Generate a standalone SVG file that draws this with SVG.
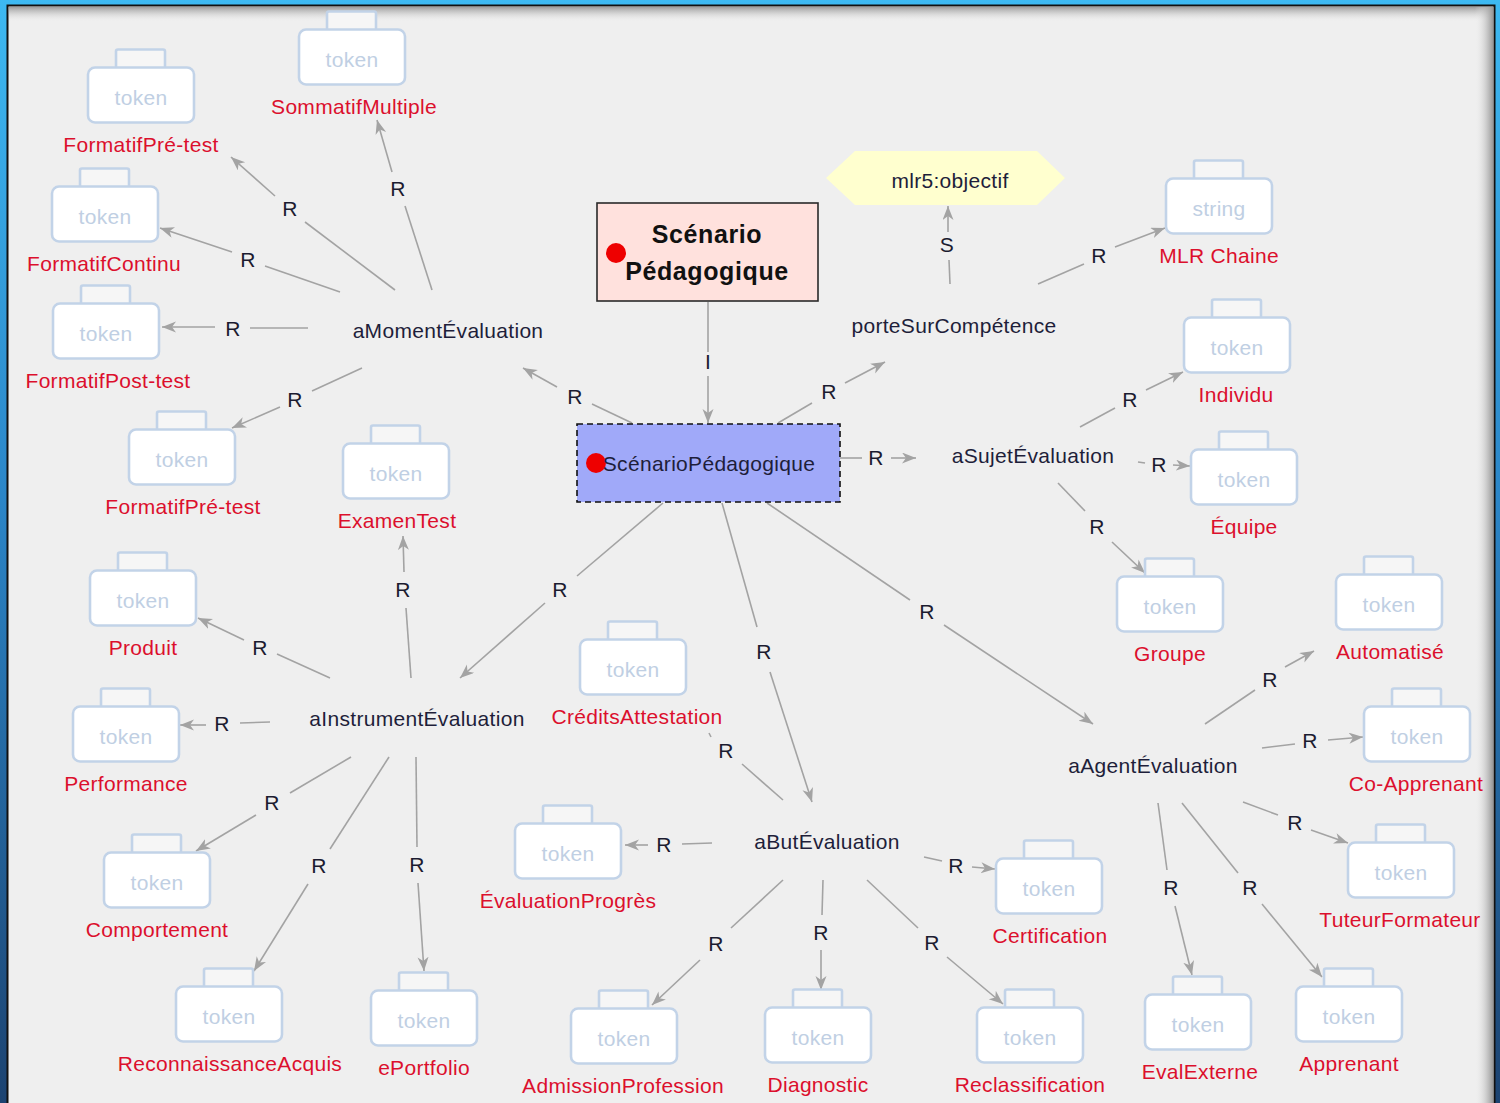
<svg xmlns="http://www.w3.org/2000/svg" xmlns:xlink="http://www.w3.org/1999/xlink" width="1500" height="1103" viewBox="0 0 1500 1103">
  <defs>
    <linearGradient id="frameGrad" x1="0" y1="0" x2="0" y2="1">
      <stop offset="0" stop-color="#3db9f2"/>
      <stop offset="0.45" stop-color="#2b86c8"/>
      <stop offset="1" stop-color="#1c4371"/>
    </linearGradient>
    <linearGradient id="shadowTop" x1="0" y1="0" x2="0" y2="1">
      <stop offset="0" stop-color="#9c9c9c"/>
      <stop offset="1" stop-color="#efefef" stop-opacity="0"/>
    </linearGradient>
    <linearGradient id="shadowRight" x1="0" y1="0" x2="1" y2="0">
      <stop offset="0" stop-color="#efefef" stop-opacity="0"/>
      <stop offset="1" stop-color="#979797"/>
    </linearGradient>
    <marker id="ah" markerUnits="userSpaceOnUse" markerWidth="16" markerHeight="13" refX="14" refY="5.5" orient="auto">
      <path d="M0,0 L14,5.5 L0,11 L4,5.5 z" fill="#a3a3a3"/>
    </marker>
    <g id="tokbox">
      <rect x="-25" y="-46.5" width="49" height="20" rx="2" fill="#f6f6f6" stroke="#c2d3e8" stroke-width="2.6"/>
      <rect x="-53" y="-28.5" width="106" height="55" rx="7" fill="#ffffff" stroke="#c2d3e8" stroke-width="2.6"/>
    </g>
  </defs>
  <style>
    text { font-family: "Liberation Sans", Arial, sans-serif; font-size: 21px; letter-spacing: 0.3px; text-anchor: middle; }
    .edge { stroke: #a3a3a3; stroke-width: 1.6; fill: none; }
    .arr { marker-end: url(#ah); }
    .rl { fill: #1b1b30; }
    .nt { fill: #1e1e3a; }
    .tt { fill: #c0cfe3; }
    .lbl { fill: #dc0f2d; }
    .title { font-weight: bold; font-size: 25px; letter-spacing: 0.6px; fill: #111111; }
  </style>

  <!-- window frame -->
  <rect x="0" y="0" width="1500" height="1103" fill="url(#frameGrad)"/>
  <rect x="7.5" y="5.5" width="1487" height="1110" fill="#efefef" stroke="#111111" stroke-width="2"/>
  <rect x="9" y="7" width="1484" height="15" fill="url(#shadowTop)"/>
  <rect x="1475" y="7" width="18" height="1096" fill="url(#shadowRight)"/>

  <!-- connectors -->
  <g id="connectors">
    <!-- class to instance -->
    <line class="edge" x1="708" y1="302" x2="708" y2="352"/>
    <line class="edge arr" x1="708" y1="376" x2="708" y2="423"/>
    <!-- from ScénarioPédagogique -->
    <line class="edge" x1="632" y1="423" x2="592" y2="404"/>
    <line class="edge arr" x1="557" y1="387" x2="523" y2="368"/>
    <line class="edge" x1="778" y1="423" x2="812" y2="403"/>
    <line class="edge arr" x1="845" y1="383" x2="885" y2="362"/>
    <line class="edge" x1="840" y1="458" x2="862" y2="458"/>
    <line class="edge arr" x1="891" y1="458" x2="916" y2="458"/>
    <line class="edge" x1="663" y1="503" x2="577" y2="576"/>
    <line class="edge arr" x1="545" y1="603" x2="460" y2="678"/>
    <line class="edge" x1="722" y1="503" x2="757" y2="627"/>
    <line class="edge arr" x1="770" y1="672" x2="812" y2="802"/>
    <line class="edge" x1="767" y1="503" x2="910" y2="600"/>
    <line class="edge arr" x1="944" y1="625" x2="1093" y2="724"/>
    <!-- porteSurCompétence -->
    <line class="edge" x1="950" y1="284" x2="949" y2="260"/>
    <line class="edge arr" x1="948" y1="232" x2="948" y2="206"/>
    <line class="edge" x1="1038" y1="284" x2="1084" y2="264"/>
    <line class="edge arr" x1="1115" y1="247" x2="1165" y2="228"/>
    <!-- aMomentÉvaluation -->
    <line class="edge" x1="432" y1="290" x2="405" y2="206"/>
    <line class="edge arr" x1="392" y1="172" x2="377" y2="120"/>
    <line class="edge" x1="395" y1="290" x2="305" y2="222"/>
    <line class="edge arr" x1="275" y1="196" x2="231" y2="157"/>
    <line class="edge" x1="340" y1="292" x2="265" y2="266"/>
    <line class="edge arr" x1="232" y1="252" x2="160" y2="228"/>
    <line class="edge" x1="308" y1="328" x2="250" y2="328"/>
    <line class="edge arr" x1="215" y1="327" x2="162" y2="327"/>
    <line class="edge" x1="362" y1="368" x2="312" y2="391"/>
    <line class="edge arr" x1="280" y1="407" x2="232" y2="428"/>
    <!-- aSujetÉvaluation -->
    <line class="edge" x1="1080" y1="427" x2="1115" y2="408"/>
    <line class="edge arr" x1="1146" y1="390" x2="1183" y2="372"/>
    <line class="edge" x1="1138" y1="462" x2="1145" y2="463"/>
    <line class="edge arr" x1="1173" y1="465" x2="1190" y2="466"/>
    <line class="edge" x1="1058" y1="483" x2="1085" y2="511"/>
    <line class="edge arr" x1="1112" y1="542" x2="1145" y2="573"/>
    <!-- aInstrumentÉvaluation -->
    <line class="edge" x1="411" y1="678" x2="406" y2="608"/>
    <line class="edge arr" x1="404" y1="572" x2="403" y2="536"/>
    <line class="edge" x1="330" y1="678" x2="277" y2="654"/>
    <line class="edge arr" x1="244" y1="640" x2="198" y2="618"/>
    <line class="edge" x1="270" y1="722" x2="240" y2="723"/>
    <line class="edge arr" x1="206" y1="725" x2="180" y2="725"/>
    <line class="edge" x1="351" y1="757" x2="290" y2="793"/>
    <line class="edge arr" x1="256" y1="815" x2="196" y2="851"/>
    <line class="edge" x1="389" y1="757" x2="330" y2="849"/>
    <line class="edge arr" x1="308" y1="884" x2="254" y2="971"/>
    <line class="edge" x1="416" y1="757" x2="417" y2="847"/>
    <line class="edge arr" x1="418" y1="883" x2="424" y2="971"/>
    <!-- aButÉvaluation -->
    <line class="edge" x1="783" y1="800" x2="742" y2="764"/>
    <line class="edge" x1="711" y1="737" x2="709" y2="733"/>
    <line class="edge" x1="712" y1="843" x2="682" y2="844"/>
    <line class="edge arr" x1="648" y1="845" x2="625" y2="845"/>
    <line class="edge" x1="924" y1="857" x2="942" y2="861"/>
    <line class="edge arr" x1="972" y1="867" x2="995" y2="869"/>
    <line class="edge" x1="783" y1="880" x2="731" y2="928"/>
    <line class="edge arr" x1="700" y1="960" x2="652" y2="1005"/>
    <line class="edge" x1="823" y1="880" x2="822" y2="915"/>
    <line class="edge arr" x1="821" y1="950" x2="821" y2="990"/>
    <line class="edge" x1="867" y1="880" x2="918" y2="928"/>
    <line class="edge arr" x1="947" y1="957" x2="1003" y2="1004"/>
    <!-- aAgentÉvaluation -->
    <line class="edge" x1="1205" y1="724" x2="1255" y2="690"/>
    <line class="edge arr" x1="1285" y1="667" x2="1314" y2="651"/>
    <line class="edge" x1="1262" y1="748" x2="1295" y2="744"/>
    <line class="edge arr" x1="1328" y1="740" x2="1363" y2="737"/>
    <line class="edge" x1="1243" y1="802" x2="1278" y2="815"/>
    <line class="edge arr" x1="1311" y1="830" x2="1348" y2="843"/>
    <line class="edge" x1="1158" y1="803" x2="1167" y2="870"/>
    <line class="edge arr" x1="1175" y1="906" x2="1192" y2="975"/>
    <line class="edge" x1="1182" y1="803" x2="1238" y2="873"/>
    <line class="edge arr" x1="1262" y1="904" x2="1322" y2="977"/>

    <!-- connector labels -->
    <text class="rl" x="708" y="369">I</text>
    <text class="rl" x="947" y="252">S</text>
    <text class="rl" x="575" y="404">R</text>
    <text class="rl" x="829" y="399">R</text>
    <text class="rl" x="876" y="465">R</text>
    <text class="rl" x="560" y="597">R</text>
    <text class="rl" x="764" y="659">R</text>
    <text class="rl" x="927" y="619">R</text>
    <text class="rl" x="1099" y="263">R</text>
    <text class="rl" x="398" y="196">R</text>
    <text class="rl" x="290" y="216">R</text>
    <text class="rl" x="248" y="267">R</text>
    <text class="rl" x="233" y="336">R</text>
    <text class="rl" x="295" y="407">R</text>
    <text class="rl" x="1130" y="407">R</text>
    <text class="rl" x="1159" y="472">R</text>
    <text class="rl" x="1097" y="534">R</text>
    <text class="rl" x="403" y="597">R</text>
    <text class="rl" x="260" y="655">R</text>
    <text class="rl" x="222" y="731">R</text>
    <text class="rl" x="272" y="810">R</text>
    <text class="rl" x="319" y="873">R</text>
    <text class="rl" x="417" y="872">R</text>
    <text class="rl" x="726" y="758">R</text>
    <text class="rl" x="664" y="852">R</text>
    <text class="rl" x="956" y="873">R</text>
    <text class="rl" x="716" y="951">R</text>
    <text class="rl" x="821" y="940">R</text>
    <text class="rl" x="932" y="950">R</text>
    <text class="rl" x="1270" y="687">R</text>
    <text class="rl" x="1310" y="748">R</text>
    <text class="rl" x="1295" y="830">R</text>
    <text class="rl" x="1171" y="895">R</text>
    <text class="rl" x="1250" y="895">R</text>
  </g>

  <!-- class node -->
  <g id="class-scenario">
    <rect x="597" y="203" width="221" height="98" fill="#ffe1dd" stroke="#2a2a2a" stroke-width="1.6"/>
    <circle cx="616" cy="253" r="10" fill="#ee0000"/>
    <text class="title" x="707" y="243">Scénario</text>
    <text class="title" x="707" y="280">Pédagogique</text>
  </g>

  <!-- instance node -->
  <g id="instance-scenario">
    <rect x="577" y="424" width="263" height="78" fill="#a0a9f9" stroke="#111111" stroke-width="1.6" stroke-dasharray="6,4"/>
    <circle cx="596" cy="463" r="10" fill="#ee0000"/>
    <text class="nt" x="709" y="471">ScénarioPédagogique</text>
  </g>

  <!-- competency objective -->
  <g id="objectif">
    <polygon points="826,178 855,151 1037,151 1065,178 1037,205 855,205" fill="#ffffcf"/>
    <text class="nt" x="950" y="188">mlr5:objectif</text>
  </g>

  <!-- property nodes -->
  <g id="p-moment"><text class="nt" x="448" y="338">aMomentÉvaluation</text></g>
  <g id="p-competence"><text class="nt" x="954" y="333">porteSurCompétence</text></g>
  <g id="p-sujet"><text class="nt" x="1033" y="463">aSujetÉvaluation</text></g>
  <g id="p-instrument"><text class="nt" x="417" y="726">aInstrumentÉvaluation</text></g>
  <g id="p-but"><text class="nt" x="827" y="849">aButÉvaluation</text></g>
  <g id="p-agent"><text class="nt" x="1153" y="773">aAgentÉvaluation</text></g>

  <!-- value nodes -->
  <g id="v-formatif-pre-1" transform="translate(141,96)"><use xlink:href="#tokbox"/><text class="tt" y="9">token</text><text class="lbl" y="55.5">FormatifPré-test</text></g>
  <g id="v-sommatif" transform="translate(352,58)"><use xlink:href="#tokbox"/><text class="tt" y="9">token</text><text class="lbl" x="2" y="55.5">SommatifMultiple</text></g>
  <g id="v-formatif-continu" transform="translate(105,215)"><use xlink:href="#tokbox"/><text class="tt" y="9">token</text><text class="lbl" x="-1" y="55.5">FormatifContinu</text></g>
  <g id="v-formatif-post" transform="translate(106,332)"><use xlink:href="#tokbox"/><text class="tt" y="9">token</text><text class="lbl" x="2" y="55.5">FormatifPost-test</text></g>
  <g id="v-formatif-pre-2" transform="translate(182,458)"><use xlink:href="#tokbox"/><text class="tt" y="9">token</text><text class="lbl" x="1" y="55.5">FormatifPré-test</text></g>
  <g id="v-examen" transform="translate(396,472)"><use xlink:href="#tokbox"/><text class="tt" y="9">token</text><text class="lbl" x="1" y="55.5">ExamenTest</text></g>
  <g id="v-produit" transform="translate(143,599)"><use xlink:href="#tokbox"/><text class="tt" y="9">token</text><text class="lbl" y="55.5">Produit</text></g>
  <g id="v-performance" transform="translate(126,735)"><use xlink:href="#tokbox"/><text class="tt" y="9">token</text><text class="lbl" y="55.5">Performance</text></g>
  <g id="v-comportement" transform="translate(157,881)"><use xlink:href="#tokbox"/><text class="tt" y="9">token</text><text class="lbl" y="55.5">Comportement</text></g>
  <g id="v-reconnaissance" transform="translate(229,1015)"><use xlink:href="#tokbox"/><text class="tt" y="9">token</text><text class="lbl" x="1" y="55.5">ReconnaissanceAcquis</text></g>
  <g id="v-portfolio" transform="translate(424,1019)"><use xlink:href="#tokbox"/><text class="tt" y="9">token</text><text class="lbl" y="55.5">ePortfolio</text></g>
  <g id="v-credits" transform="translate(633,668)"><use xlink:href="#tokbox"/><text class="tt" y="9">token</text><text class="lbl" x="4" y="55.5">CréditsAttestation</text></g>
  <g id="v-progres" transform="translate(568,852)"><use xlink:href="#tokbox"/><text class="tt" y="9">token</text><text class="lbl" y="55.5">ÉvaluationProgrès</text></g>
  <g id="v-admission" transform="translate(624,1037)"><use xlink:href="#tokbox"/><text class="tt" y="9">token</text><text class="lbl" x="-1" y="55.5">AdmissionProfession</text></g>
  <g id="v-diagnostic" transform="translate(818,1036)"><use xlink:href="#tokbox"/><text class="tt" y="9">token</text><text class="lbl" y="55.5">Diagnostic</text></g>
  <g id="v-reclassification" transform="translate(1030,1036)"><use xlink:href="#tokbox"/><text class="tt" y="9">token</text><text class="lbl" y="55.5">Reclassification</text></g>
  <g id="v-certification" transform="translate(1049,887)"><use xlink:href="#tokbox"/><text class="tt" y="9">token</text><text class="lbl" x="1" y="55.5">Certification</text></g>
  <g id="v-evalexterne" transform="translate(1198,1023)"><use xlink:href="#tokbox"/><text class="tt" y="9">token</text><text class="lbl" x="2" y="55.5">EvalExterne</text></g>
  <g id="v-apprenant" transform="translate(1349,1015)"><use xlink:href="#tokbox"/><text class="tt" y="9">token</text><text class="lbl" y="55.5">Apprenant</text></g>
  <g id="v-tuteur" transform="translate(1401,871)"><use xlink:href="#tokbox"/><text class="tt" y="9">token</text><text class="lbl" x="-1" y="55.5">TuteurFormateur</text></g>
  <g id="v-coapprenant" transform="translate(1417,735)"><use xlink:href="#tokbox"/><text class="tt" y="9">token</text><text class="lbl" x="-1" y="55.5">Co-Apprenant</text></g>
  <g id="v-automatise" transform="translate(1389,603)"><use xlink:href="#tokbox"/><text class="tt" y="9">token</text><text class="lbl" x="1" y="55.5">Automatisé</text></g>
  <g id="v-groupe" transform="translate(1170,605)"><use xlink:href="#tokbox"/><text class="tt" y="9">token</text><text class="lbl" y="55.5">Groupe</text></g>
  <g id="v-equipe" transform="translate(1244,478)"><use xlink:href="#tokbox"/><text class="tt" y="9">token</text><text class="lbl" y="55.5">Équipe</text></g>
  <g id="v-individu" transform="translate(1237,346)"><use xlink:href="#tokbox"/><text class="tt" y="9">token</text><text class="lbl" x="-1" y="55.5">Individu</text></g>
  <g id="v-mlr-chaine" transform="translate(1219,207)"><use xlink:href="#tokbox"/><text class="tt" y="9">string</text><text class="lbl" y="55.5">MLR Chaine</text></g>
</svg>
